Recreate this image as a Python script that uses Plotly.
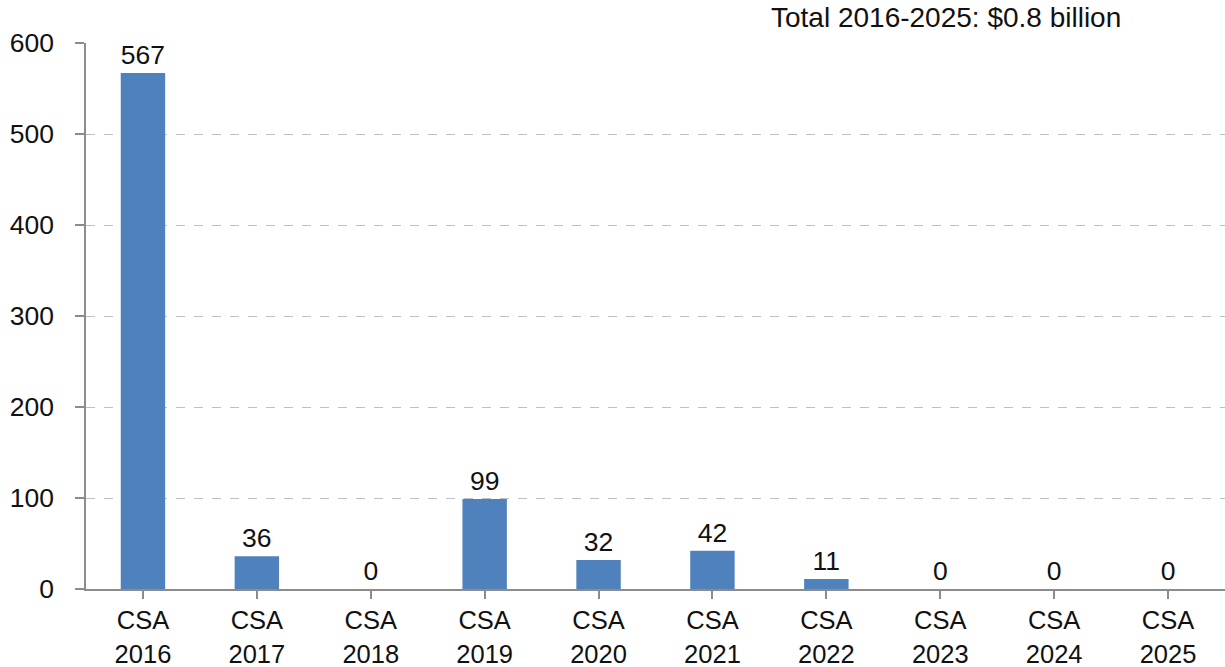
import plotly.graph_objects as go

categories = ["CSA<br>2016", "CSA<br>2017", "CSA<br>2018", "CSA<br>2019", "CSA<br>2020",
              "CSA<br>2021", "CSA<br>2022", "CSA<br>2023", "CSA<br>2024", "CSA<br>2025"]
values = [567, 36, 0, 99, 32, 42, 11, 0, 0, 0]
y_ticks = [0, 100, 200, 300, 400, 500, 600]
title_text = "Total 2016-2025: $0.8 billion"

FONT = "Liberation Sans, Arial, sans-serif"
FS = 26.5

fig = go.Figure(go.Bar(
    x=categories,
    y=values,
    text=[str(v) for v in values],
    textposition="outside",
    textfont=dict(family=FONT, size=FS, color="#111111"),
    cliponaxis=False,
    marker=dict(color="#4F81BD", line=dict(width=0)),
    width=0.39,
))

fig.update_layout(
    width=1225, height=667,
    margin=dict(l=86, r=0, t=43, b=78),
    paper_bgcolor="white", plot_bgcolor="white",
    showlegend=False,
    font=dict(family=FONT, size=FS, color="#111111"),
    annotations=[dict(
        text=title_text, xref="paper", yref="paper",
        x=(1123 - 86) / 1139, y=1 + 25 / 546, xanchor="right", yanchor="middle",
        showarrow=False, font=dict(family=FONT, size=28, color="#111111"),
    )],
)

fig.update_xaxes(
    type="category",
    range=[-0.5, 9.5],
    automargin=False,
    showline=True, linecolor="#8c8c8c", linewidth=1.5,
    ticks="outside", ticklen=8, tickcolor="#8c8c8c", tickwidth=1.5,
    tickfont=dict(family=FONT, size=25.5, color="#111111"),
    showgrid=False,
    tickangle=0,
)

fig.update_yaxes(
    range=[0, 600],
    tickvals=y_ticks,
    automargin=False,
    showline=True, linecolor="#8c8c8c", linewidth=1.5,
    ticks="outside", ticklen=9, tickcolor="#8c8c8c", tickwidth=1.5,
    tickfont=dict(family=FONT, size=FS, color="#111111"),
    ticklabelstandoff=16,
    showgrid=True, gridcolor="#c0c0c0", griddash="dash", gridwidth=1,
    zeroline=False,
)

fig.write_html("out.html")
